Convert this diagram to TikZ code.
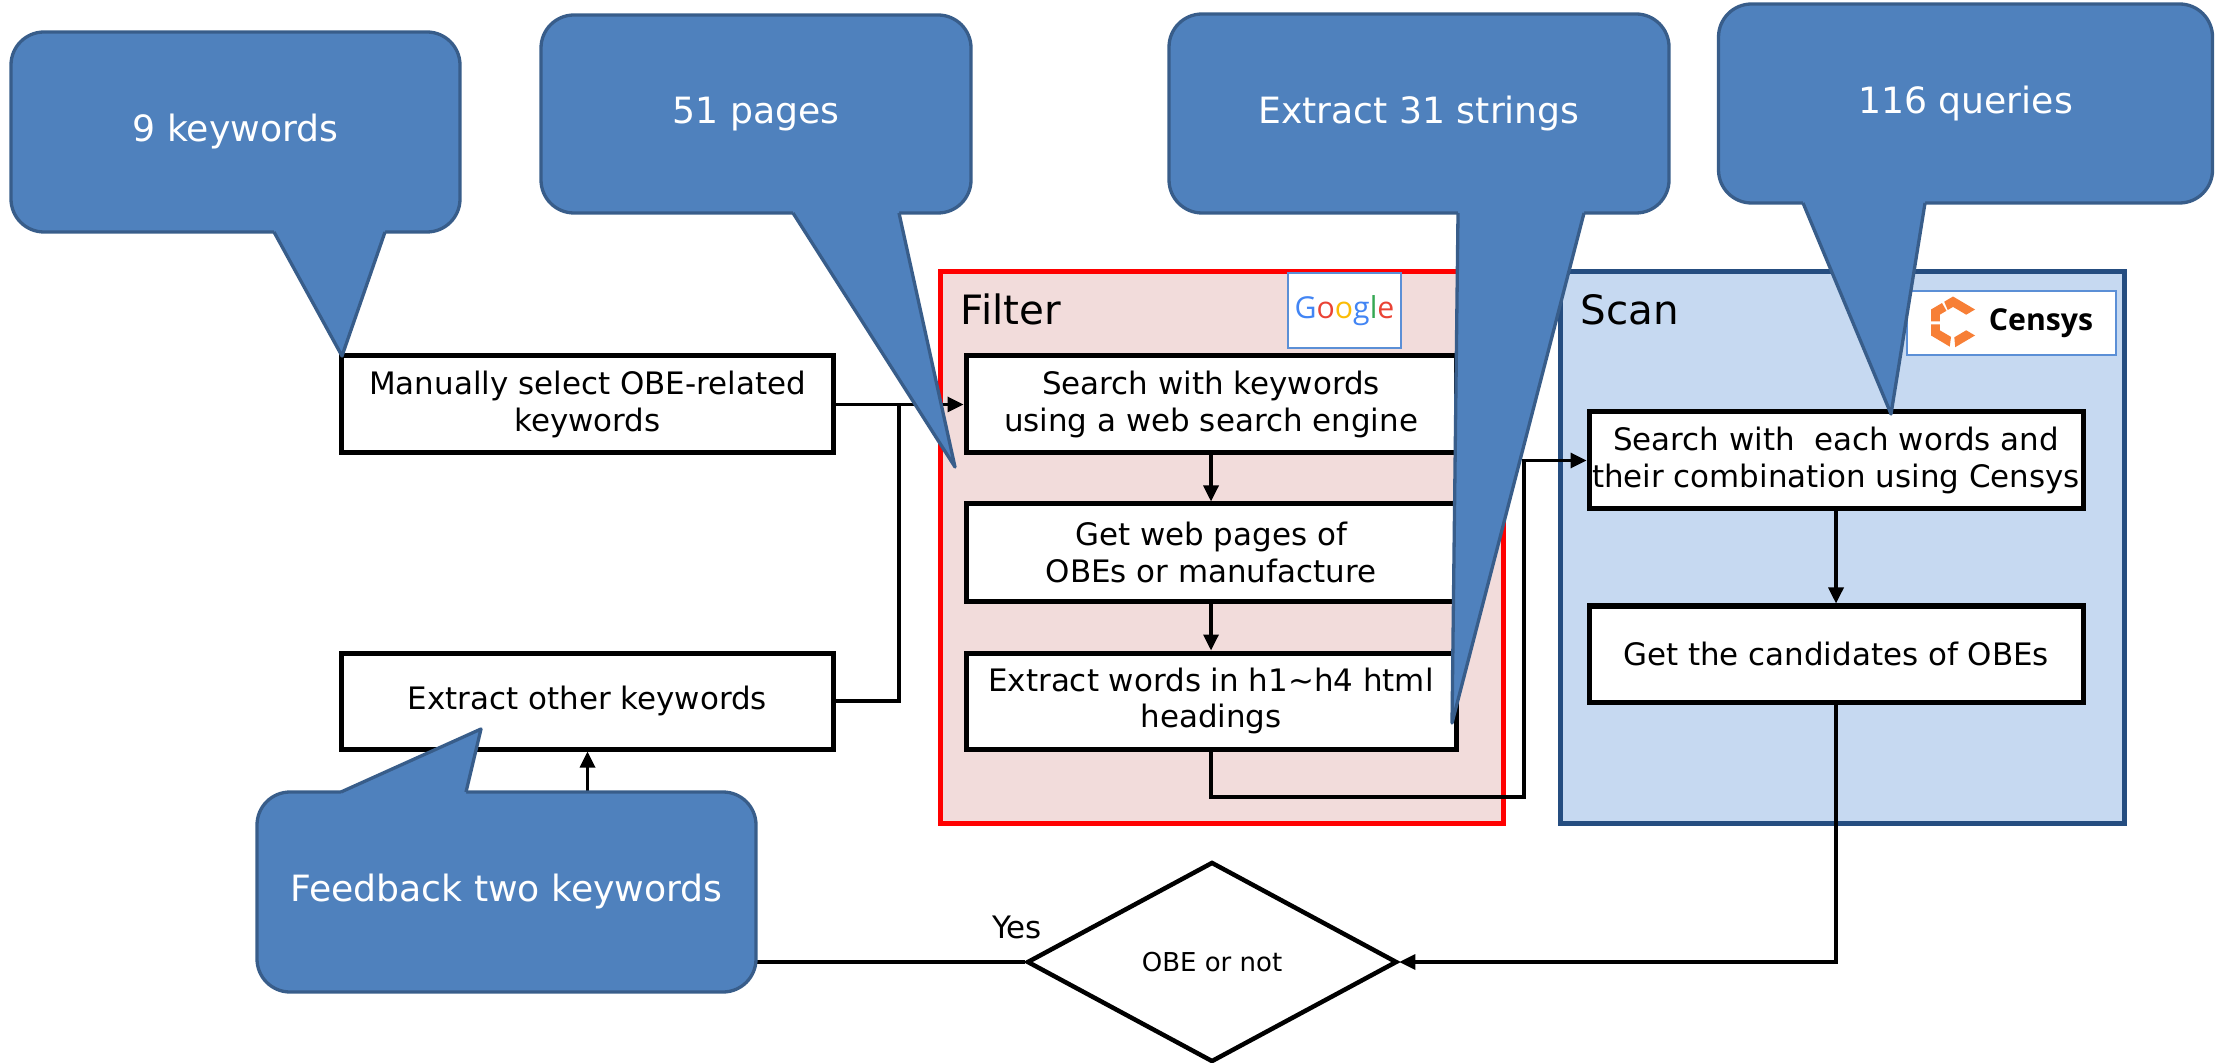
\documentclass[tikz,border=0pt]{standalone}
\usepackage{fontspec}
\setmainfont{DejaVu Sans}
\newfontfamily\logofont{Open Sans}
\usetikzlibrary{shapes.geometric, arrows.meta}

\definecolor{bubblefill}{RGB}{79,129,189}
\definecolor{bubbleline}{RGB}{56,93,138}
\definecolor{filterfill}{RGB}{242,220,219}
\definecolor{scanfill}{RGB}{198,217,241}
\definecolor{scanline}{RGB}{37,77,128}
\definecolor{logoline}{RGB}{91,143,214}
\definecolor{gblue}{RGB}{66,133,244}
\definecolor{gred}{RGB}{234,67,53}
\definecolor{gyellow}{RGB}{251,188,5}
\definecolor{ggreen}{RGB}{52,168,83}
\definecolor{censys}{RGB}{247,127,54}

\newcommand{\obeboxfont}{\fontsize{8.8}{10.4}\selectfont}
\newcommand{\obebubblefont}{\fontsize{10.3}{12.4}\selectfont}
\newcommand{\obetitlefont}{\fontsize{11.5}{13.8}\selectfont}
\newcommand{\obesmallfont}{\fontsize{7.4}{8.9}\selectfont}

\begin{document}
\begin{tikzpicture}[
    every node/.style={font=\obeboxfont},
    step_box/.style={rectangle, draw, line width=0.05cm, fill=white, minimum width=4.92cm, minimum height=0.97cm, align=center, inner sep=0},
    stage/.style={rectangle, line width=0.05cm, minimum width=5.63cm, minimum height=5.51cm},
    logo_box/.style={rectangle, draw=logoline, line width=0.02cm, fill=white, inner sep=0},
    bubble/.style={rectangle, rounded corners=0.33cm, draw=bubbleline, fill=bubblefill, line width=0.033cm, text=white, font=\obebubblefont, inner sep=0},
    bubble_tail/.style={bubbleline, line width=0.033cm, line join=round},
    flow/.style={line width=0.033cm},
    flow_arrow/.style={flow, -{Triangle[length=0.16cm, width=0.15cm]}}
  ]
  \useasboundingbox (0cm, 0cm) rectangle (22.15cm, -10.63cm);

  \node (filter) [stage, draw=red, fill=filterfill] at (12.215cm, -5.475cm) {};
  \node (scan) [stage, draw=scanline, fill=scanfill, minimum width=5.64cm] at (18.42cm, -5.475cm) {};
  \node (filter_title) [anchor=west, inner sep=0, font=\obetitlefont] at (9.6cm, -3.09cm) {Filter};
  \node (scan_title) [anchor=west, inner sep=0, font=\obetitlefont] at (15.8cm, -3.1cm) {Scan};
  \node (google) [logo_box, minimum width=1.13cm, minimum height=0.75cm] at (13.445cm, -3.105cm) {\logofont\fontsize{8.6}{10}\selectfont\textcolor{gblue}{G}\textcolor{gred}{o}\textcolor{gyellow}{o}\textcolor{gblue}{g}\textcolor{ggreen}{l}\textcolor{gred}{e}};
  \node (censys) [logo_box, minimum width=2.09cm, minimum height=0.64cm] at (20.115cm, -3.23cm) {};
  \node (censys_name) [inner sep=0, font=\logofont\bfseries\fontsize{8.6}{10}\selectfont] at (20.41cm, -3.23cm) {Censys};
  \begin{scope}[shift={(19.53cm, -3.225cm)}, x=0.01cm, y=-0.01cm, fill=censys]
    \fill (-8.8,-20.8) -- (0,-26) -- (22,-13) -- (13.2,-7.8) -- (0,-15.6) -- (-5.3,-12.5) -- cycle;
    \fill (-11,-19.5) -- (-22,-13) -- (-22,-1) -- (-13.2,-1) -- (-13.2,-7.8) -- (-6.6,-11.7) -- cycle;
    \fill (-22,2) -- (-22,13) -- (-3.3,24.1) -- (-2,14.4) -- (-13.2,7.8) -- (-13.2,2) -- cycle;
    \fill (2.2,24.7) -- (22,13) -- (13.2,7.8) -- (1.3,14.8) -- cycle;
  \end{scope}

  \node (s_manual) [step_box] at (5.875cm, -4.045cm) {Manually select OBE-related\\keywords};
  \node (s_other) [step_box, minimum height=0.96cm] at (5.875cm, -7.01cm) {Extract other keywords};
  \node (f_search) [step_box, minimum width=4.9cm] at (12.11cm, -4.045cm) {Search with keywords\\using a web search engine};
  \node (f_pages) [step_box, minimum width=4.9cm] at (12.11cm, -5.525cm) {Get web pages of\\OBEs or manufacture};
  \node (f_words) [step_box, minimum width=4.9cm, minimum height=0.96cm] at (12.11cm, -7.01cm) {Extract words in h1\textasciitilde h4 html\\headings};
  \node (c_query) [step_box, minimum width=4.94cm] at (18.36cm, -4.605cm) {Search with\ \ each words and\\their combination using Censys};
  \node (c_cand) [step_box, minimum width=4.94cm, minimum height=0.96cm] at (18.36cm, -6.54cm) {Get the candidates of OBEs};
  \node (decision) [diamond, draw, line width=0.045cm, fill=white, minimum width=3.7cm, minimum height=2cm, inner sep=0, font=\obesmallfont] at (12.12cm, -9.62cm) {OBE or not};
  \node (yes) [inner sep=0] at (10.17cm, -9.27cm) {Yes};

  \coordinate (merge) at (8.99cm, -4.045cm);
  \coordinate (bend) at (15.24cm, -7.97cm);
  \draw [flow_arrow] (s_manual) -- (f_search);
  \draw [flow] (s_other.east) -| (merge);
  \draw [flow_arrow] (f_search) -- (f_pages);
  \draw [flow_arrow] (f_pages) -- (f_words);
  \draw [flow_arrow] (f_words.south) |- (bend) |- (c_query.west);
  \draw [flow_arrow] (c_query) -- (c_cand);
  \draw [flow_arrow] (c_cand.south) |- (decision.east);
  \draw [flow_arrow] (decision.west) -| (s_other.south);

  \node (b_keywords) [bubble, minimum width=4.49cm, minimum height=2cm] at (2.355cm, -1.32cm) {9 keywords};
  \fill [bubblefill] (2.74cm, -2.26cm) -- (2.74cm, -2.32cm) -- (3.42cm, -3.56cm) -- (3.85cm, -2.32cm) -- (3.85cm, -2.26cm) -- cycle;
  \draw [bubble_tail] (2.74cm, -2.32cm) -- (3.42cm, -3.56cm) -- (3.85cm, -2.32cm);
  \node (b_pages) [bubble, minimum width=4.3cm, minimum height=1.98cm] at (7.56cm, -1.14cm) {51 pages};
  \fill [bubblefill] (7.93cm, -2.07cm) -- (7.93cm, -2.13cm) -- (9.55cm, -4.67cm) -- (8.99cm, -2.13cm) -- (8.99cm, -2.07cm) -- cycle;
  \draw [bubble_tail] (7.93cm, -2.13cm) -- (9.55cm, -4.67cm) -- (8.99cm, -2.13cm);
  \node (b_strings) [bubble, minimum width=5cm, minimum height=1.99cm] at (14.19cm, -1.135cm) {Extract 31 strings};
  \fill [bubblefill] (14.58cm, -2.07cm) -- (14.58cm, -2.13cm) -- (14.52cm, -7.23cm) -- (15.84cm, -2.13cm) -- (15.84cm, -2.07cm) -- cycle;
  \draw [bubble_tail] (14.58cm, -2.13cm) -- (14.52cm, -7.23cm) -- (15.84cm, -2.13cm);
  \node (b_queries) [bubble, minimum width=4.94cm, minimum height=1.99cm] at (19.655cm, -1.035cm) {116 queries};
  \fill [bubblefill] (18.03cm, -1.97cm) -- (18.03cm, -2.03cm) -- (18.91cm, -4.14cm) -- (19.25cm, -2.03cm) -- (19.25cm, -1.97cm) -- cycle;
  \draw [bubble_tail] (18.03cm, -2.03cm) -- (18.91cm, -4.14cm) -- (19.25cm, -2.03cm);
  \node (b_feedback) [bubble, minimum width=4.99cm, minimum height=2cm] at (5.065cm, -8.92cm) {Feedback two keywords};
  \fill [bubblefill] (3.41cm, -7.98cm) -- (3.41cm, -7.92cm) -- (4.81cm, -7.29cm) -- (4.66cm, -7.92cm) -- (4.66cm, -7.98cm) -- cycle;
  \draw [bubble_tail] (3.41cm, -7.92cm) -- (4.81cm, -7.29cm) -- (4.66cm, -7.92cm);
\end{tikzpicture}
\end{document}
